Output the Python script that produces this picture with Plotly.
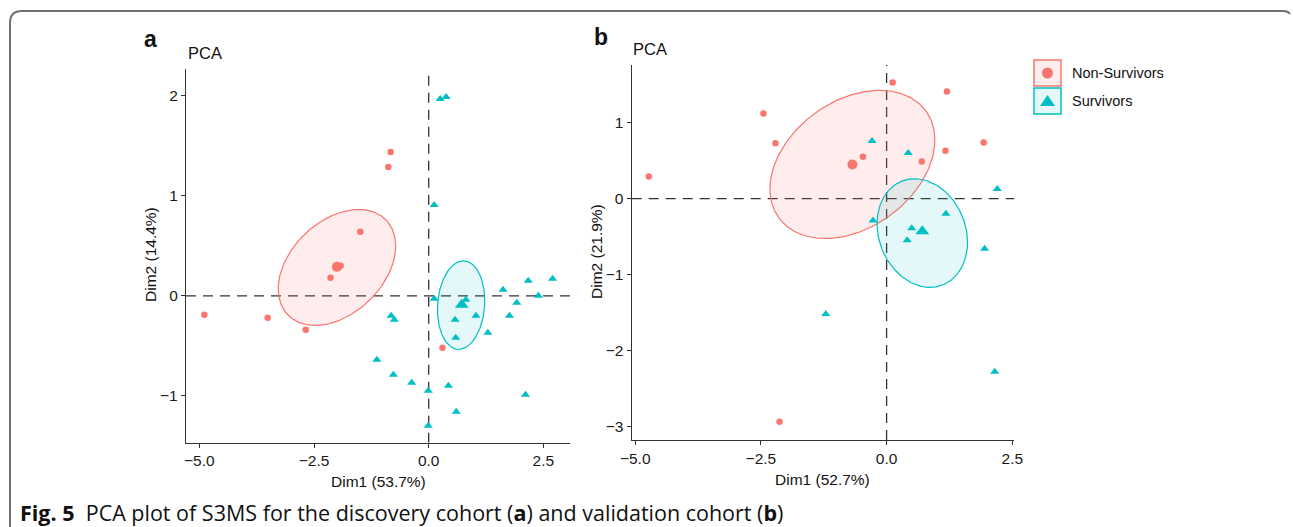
import numpy as np
import plotly.graph_objects as go

W, H = 1293, 527
RED, CYAN = "#F8766D", "#00BFC4"
RED_FILL, CYAN_FILL = "rgba(248,118,109,0.13)", "rgba(0,191,196,0.10)"

# ---------------- data: panel a (discovery cohort) ----------------
a_ns_x = [-4.89, -3.51, -2.68, -2.14, -1.49, 0.30, -0.83, -0.88, -1.92]
a_ns_y = [-0.19, -0.22, -0.34, 0.18, 0.64, -0.52, 1.44, 1.29, 0.30]
a_s_x = [0.12, 0.81, 0.575, 0.59, 1.03, 1.29, 1.62, 1.92, 1.76, 2.17, 2.70, 2.39, 2.11,
         -0.82, -0.75, -1.13, -0.77, -0.37, -0.01, 0.43, 0.60, -0.01, 0.25, 0.38, 0.12]
a_s_y = [-0.03, -0.04, -0.24, -0.42, -0.20, -0.37, 0.06, -0.07, -0.20, 0.15, 0.17, 0.00, -0.99,
         -0.20, -0.24, -0.64, -0.79, -0.87, -0.95, -0.90, -1.16, -1.30, 1.97, 1.99, 0.91]
a_centroids = {"ns": (-2.0, 0.29), "s": (0.72, -0.09)}
# ellipse: center x, center y, half-width x, half-height y, correlation
a_ell_ns = (-2.0, 0.284, 1.28, 0.58, 0.37)
a_ell_s = (0.706, -0.093, 0.516, 0.443, 0.10)

# ---------------- data: panel b (validation cohort) ----------------
b_ns_x = [-4.73, -2.45, -2.21, -0.47, 0.12, 1.20, 0.70, 1.17, 1.93, -2.13]
b_ns_y = [0.29, 1.12, 0.73, 0.55, 1.53, 1.41, 0.49, 0.63, 0.74, -2.94]
b_s_x = [-0.29, 0.43, -0.27, 2.20, 1.18, 0.50, 0.41, 1.95, -1.21, 2.15]
b_s_y = [0.76, 0.60, -0.29, 0.125, -0.20, -0.39, -0.55, -0.66, -1.52, -2.28]
b_centroids = {"ns": (-0.68, 0.45), "s": (0.71, -0.43)}
b_ell_ns = (-0.68, 0.45, 1.64, 0.976, 0.33)
b_ell_s = (0.71, -0.454, 0.90, 0.715, -0.17)

x_ticks = [-5.0, -2.5, 0.0, 2.5]
a_y_ticks = [-1, 0, 1, 2]
b_y_ticks = [-3, -2, -1, 0, 1]
a_xrange, a_yrange = [-5.29, 3.08], [-1.47, 2.27]
b_xrange, b_yrange = [-5.07, 2.54], [-3.18, 1.76]
labels = ["Non-Survivors", "Survivors"]


def ellipse(cx, cy, hx, hy, rho, n=240):
    t = np.linspace(0, 2 * np.pi, n)
    x = cx + hx * np.cos(t)
    y = cy + hy * (rho * np.cos(t) + np.sqrt(1 - rho ** 2) * np.sin(t))
    return x, y


def px(x):
    return x / W


def py(y):
    return 1 - y / H


fig = go.Figure()


def add_panel(xa, ya, ns_x, ns_y, s_x, s_y, cents, ell_ns, ell_s):
    for ell, col, fc in [(ell_ns, RED, RED_FILL), (ell_s, CYAN, CYAN_FILL)]:
        ex, ey = ellipse(*ell)
        fig.add_trace(go.Scatter(x=ex, y=ey, mode="lines", fill="toself", fillcolor=fc,
                                 line=dict(color=col, width=1.2), xaxis=xa, yaxis=ya,
                                 showlegend=False, hoverinfo="skip"))
    fig.add_trace(go.Scatter(x=ns_x, y=ns_y, mode="markers", xaxis=xa, yaxis=ya, showlegend=False,
                             marker=dict(color=RED, size=6.5, symbol="circle", line=dict(width=0))))
    fig.add_trace(go.Scatter(x=s_x, y=s_y, mode="markers", xaxis=xa, yaxis=ya, showlegend=False,
                             marker=dict(color=CYAN, size=8, symbol="triangle-up", line=dict(width=0))))
    fig.add_trace(go.Scatter(x=[cents["ns"][0]], y=[cents["ns"][1]], mode="markers", xaxis=xa, yaxis=ya,
                             showlegend=False, marker=dict(color=RED, size=10, symbol="circle", line=dict(width=0))))
    fig.add_trace(go.Scatter(x=[cents["s"][0]], y=[cents["s"][1]], mode="markers", xaxis=xa, yaxis=ya,
                             showlegend=False, marker=dict(color=CYAN, size=12, symbol="triangle-up", line=dict(width=0))))


add_panel("x", "y", a_ns_x, a_ns_y, a_s_x, a_s_y, a_centroids, a_ell_ns, a_ell_s)
add_panel("x2", "y2", b_ns_x, b_ns_y, b_s_x, b_s_y, b_centroids, b_ell_ns, b_ell_s)

sans = "Liberation Sans, Arial, sans-serif"
tickfont = dict(family=sans, size=15.5, color="#1a1a1a")
axis_common = dict(showgrid=False, zeroline=False, showline=True, linecolor="#333", linewidth=1.3,
                   ticks="outside", ticklen=4, tickwidth=1.2, tickcolor="#333", tickfont=tickfont,
                   mirror=False, automargin=False)

fig.update_layout(
    width=W, height=H, margin=dict(l=0, r=0, t=0, b=0, pad=0, autoexpand=False),
    paper_bgcolor="white", plot_bgcolor="white", showlegend=False,
    xaxis=dict(domain=[px(186), px(570)], range=a_xrange, anchor="y", tickvals=x_ticks,
               tickformat=".1f", **axis_common),
    yaxis=dict(domain=[py(442.7), py(69)], range=a_yrange, anchor="x", tickvals=a_y_ticks, **axis_common),
    xaxis2=dict(domain=[px(631.7), px(1014.3)], range=b_xrange, anchor="y2", tickvals=x_ticks,
                tickformat=".1f", **axis_common),
    yaxis2=dict(domain=[py(440), py(65)], range=b_yrange, anchor="x2", tickvals=b_y_ticks, **axis_common),
)

shapes = []
dash = dict(color="#333", width=1.3, dash="10px,7px")
for xr, yr, xa, ya in [(a_xrange, a_yrange, "x", "y"), (b_xrange, b_yrange, "x2", "y2")]:
    shapes.append(dict(type="line", xref=xa, yref=ya, x0=xr[0], x1=xr[1], y0=0, y1=0, line=dash, layer="below"))
    shapes.append(dict(type="line", xref=xa, yref=ya, x0=0, x1=0, y0=yr[0], y1=yr[1], line=dash, layer="below"))

# figure frame
frame = (f"M {px(10)},{py(527)} L {px(10)},{py(23)} Q {px(10)},{py(11)} {px(22)},{py(11)} "
         f"L {px(1283)},{py(11)} Q {px(1288)},{py(11)} {px(1290)},{py(14)}")
shapes.append(dict(type="path", xref="paper", yref="paper", path=frame,
                   line=dict(color="#707070", width=2)))

# legend keys
shapes.append(dict(type="rect", xref="paper", yref="paper", x0=px(1034), x1=px(1061), y0=py(86), y1=py(60),
                   fillcolor=RED_FILL, line=dict(color=RED, width=1.5)))
shapes.append(dict(type="rect", xref="paper", yref="paper", x0=px(1034), x1=px(1061), y0=py(114), y1=py(88),
                   fillcolor=CYAN_FILL, line=dict(color=CYAN, width=1.5)))
shapes.append(dict(type="circle", xref="paper", yref="paper", x0=px(1042), x1=px(1053), y0=py(78.5), y1=py(67.5),
                   fillcolor=RED, line=dict(width=0)))
shapes.append(dict(type="path", xref="paper", yref="paper",
                   path=f"M {px(1040)},{py(106)} L {px(1055)},{py(106)} L {px(1047.5)},{py(95)} Z",
                   fillcolor=CYAN, line=dict(width=0)))
fig.update_layout(shapes=shapes)

ann = []


def text(x, y, s, size, xanchor="left", textangle=0, family=sans, color="#111"):
    ann.append(dict(x=px(x), y=py(y), xref="paper", yref="paper", text=s, showarrow=False,
                    xanchor=xanchor, yanchor="middle", textangle=textangle,
                    font=dict(family=family, size=size, color=color)))


text(142, 39, "<b>a</b>", 23)
text(592, 37, "<b>b</b>", 23)
text(186, 53, "PCA", 16.5)
text(631, 49, "PCA", 16.5)
text(378, 481, "Dim1 (53.7%)", 15.5, xanchor="center")
text(823, 479, "Dim1 (52.7%)", 15.5, xanchor="center")
text(150, 255, "Dim2 (14.4%)", 15.5, xanchor="center", textangle=-90)
text(596, 252, "Dim2 (21.9%)", 15.5, xanchor="center", textangle=-90)
text(1070, 73, "Non-Survivors", 14.5)
text(1070, 101, "Survivors", 14.5)
text(18, 512, "<b>Fig. 5</b>\u00a0\u00a0PCA plot of S3MS for the discovery cohort (<b>a</b>) and validation cohort (<b>b</b>)",
     21.5, family="Open Sans, Noto Sans, sans-serif", color="#111")
fig.update_layout(annotations=ann)

fig.write_html("out.html", config={"displayModeBar": False},
               post_script="document.body.style.margin='0';document.body.style.overflow='hidden';")
